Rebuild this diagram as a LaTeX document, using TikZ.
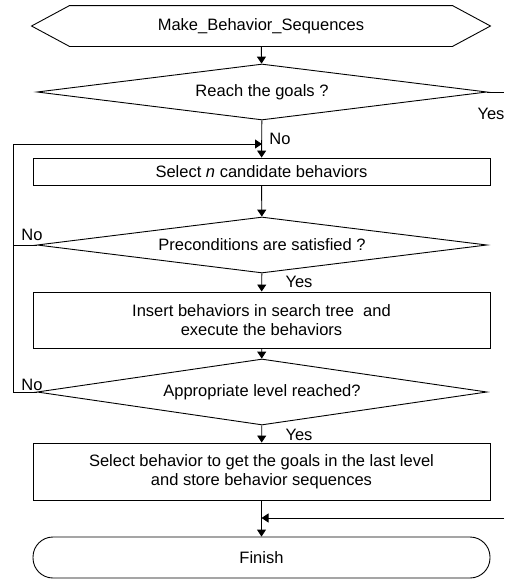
\documentclass[tikz,border=0pt]{standalone}
\usepackage{fontspec}
\setmainfont{Liberation Sans}
\usetikzlibrary{shapes.geometric, arrows.meta}

\begin{document}
\begin{tikzpicture}[>={Triangle[length=7pt, width=9pt]}, x=1pt, y=1pt, line width=0.9pt,
        font=\fontsize{16.5}{18.5}\selectfont,
        proc/.style={draw, rectangle, minimum width=457, minimum height=#1, inner sep=0, align=center},
        test/.style={draw, diamond, aspect=8, minimum width=450, minimum height=#1, inner sep=0}]
        \useasboundingbox (0, 0) rectangle (504, -579);
        % boxes
        \node[minimum width=458, minimum height=40, inner sep=0] (start) at (261, -26) {Make\_Behavior\_Sequences};
        \path[draw] (start.west) -- ([xshift=38]start.north west) -- ([xshift=-38]start.north east)
            -- (start.east) -- ([xshift=-38]start.south east) -- ([xshift=38]start.south west) -- cycle;
        \node[test=56] (goal) at (262, -92) {Reach the goals ?};
        \node[proc=27] (cand) at (261.5, -171.5) {Select \textit{n} candidate behaviors};
        \node[test=56] (pre) at (262, -245) {Preconditions are satisfied ?};
        \node[proc=56] (ins) at (261.5, -320) {Insert behaviors in search tree\ \ and\\execute the behaviors};
        \node[test=66] (lev) at (262, -392) {Appropriate level reached?};
        \node[proc=57] (store) at (261.5, -471.5) {Select behavior to get the goals in the last level\\and store behavior sequences};
        \node[draw, rectangle, rounded corners=20, minimum width=457, minimum height=41, inner sep=0] (finish) at (261.5, -557.5) {Finish};
        % connectors
        \coordinate (join) at (262, -144);
        \coordinate (back) at (13, -144);
        \coordinate (outR) at (504, -92);
        \coordinate (inR) at (504, -518);
        \path[draw, ->] (start) -- (goal);
        \path[draw, ->] (goal) -- (cand);
        \path[draw, ->] (cand) -- (pre);
        \path[draw, ->] (pre) -- (ins);
        \path[draw, ->] (ins) -- (lev);
        \path[draw, ->] (lev) -- (store);
        \path[draw, ->] (store) -- (finish);
        \path[draw, ->] (pre.west) -| (back) -- (join);
        \path[draw] (lev.west) -| (back);
        \path[draw] (goal.east) -- (outR);
        \path[draw, ->] (inR) -- (finish.north |- inR);
        % labels
        \node (noA) at (280, -139) {No};
        \node (noB) at (32, -235) {No};
        \node (noC) at (32, -385) {No};
        \node (yesA) at (491, -114) {Yes};
        \node (yesB) at (299, -282) {Yes};
        \node (yesC) at (299, -435) {Yes};
    \end{tikzpicture}
\end{document}
